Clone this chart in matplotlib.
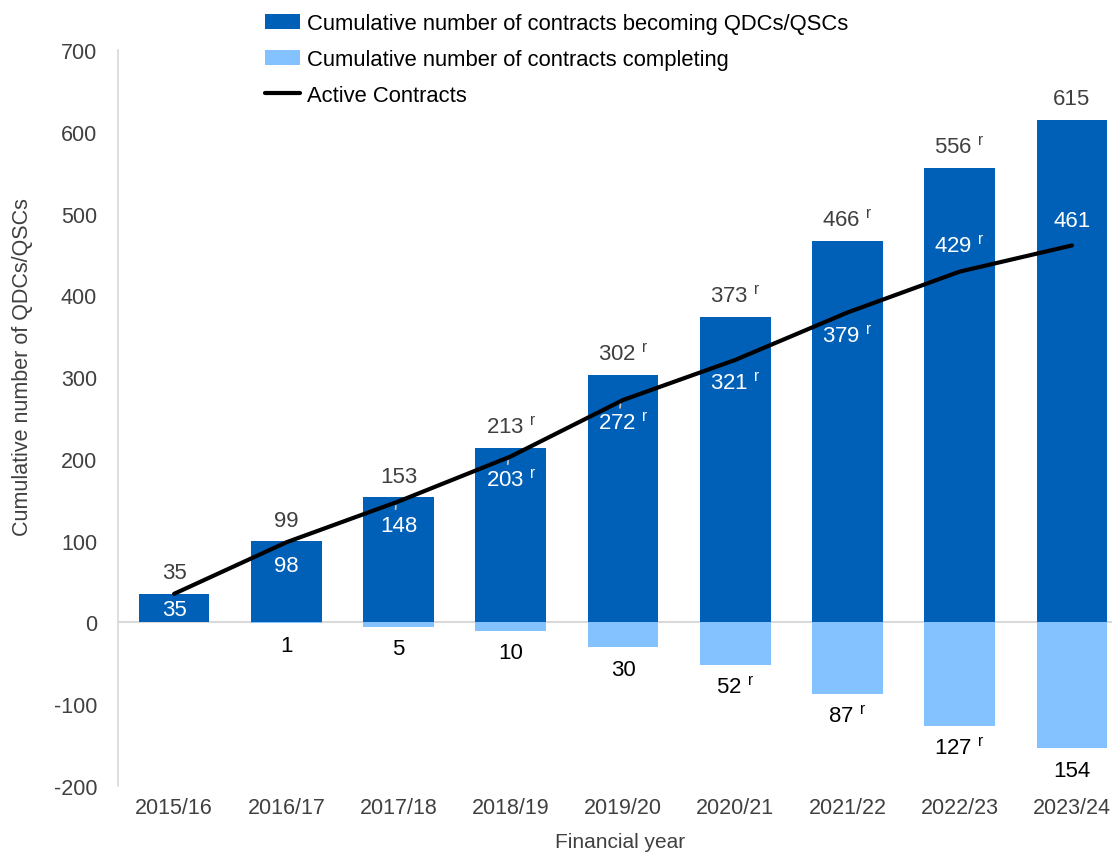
import matplotlib
matplotlib.use("Agg")
import matplotlib.pyplot as plt
import numpy as np

years = ["2015/16", "2016/17", "2017/18", "2018/19", "2019/20",
         "2020/21", "2021/22", "2022/23", "2023/24"]
becoming = [35, 99, 153, 213, 302, 373, 466, 556, 615]
becoming_rev = [False, False, False, True, True, True, True, True, False]
completing = [0, 1, 5, 10, 30, 52, 87, 127, 154]
completing_rev = [False, False, False, False, False, True, True, True, False]
active = [35, 98, 148, 203, 272, 321, 379, 429, 461]
active_rev = [False, False, False, True, True, True, True, True, False]
active_above = [False, False, False, False, False, False, False, True, True]
active_leader = [False, False, True, True, True, False, False, False, False]

DARK = "#0060B8"
LIGHT = "#84C2FF"
GREY_TXT = "#404040"

plt.rcParams['font.family'] = ['Liberation Sans', 'DejaVu Sans']
plt.rcParams['axes.unicode_minus'] = False

fig = plt.figure(figsize=(11.12, 8.54), dpi=100)
ax = fig.add_axes([118/1112, 67/854, 1010/1112, 736/854])

x = np.arange(len(years))
w = 0.63
b1 = ax.bar(x, becoming, width=w, color=DARK, zorder=2,
            label="Cumulative number of contracts becoming QDCs/QSCs")
b2 = ax.bar(x, [-c for c in completing], width=w, color=LIGHT, zorder=2,
            label="Cumulative number of contracts completing")
ln, = ax.plot(x, active, color="black", lw=3, zorder=4, label="Active Contracts",
              solid_capstyle="round")

def lab(v, rev):
    return f"{v} $^{{\\mathregular{{r}}}}$" if rev else f"{v}"

FS = 16
for i in range(len(years)):
    ax.annotate(lab(becoming[i], becoming_rev[i]), (x[i], becoming[i]),
                xytext=(0, 15), textcoords="offset points", ha="center",
                va="center", fontsize=FS, color=GREY_TXT, zorder=5)
    if completing[i] > 0:
        ax.annotate(lab(completing[i], completing_rev[i]), (x[i], -completing[i]),
                    xytext=(0, -16), textcoords="offset points", ha="center",
                    va="center", fontsize=FS, color="black", zorder=5)
    off = 18 if active_above[i] else -(11 if i == 0 else 17)
    ax.annotate(lab(active[i], active_rev[i]), (x[i], active[i]),
                xytext=(0, off), textcoords="offset points", ha="center",
                va="center", fontsize=FS, color="white", zorder=5)
    if active_leader[i]:
        ax.annotate("", (x[i] - 0.02, active[i] - 2), xytext=(x[i] - 0.03, active[i] - 13),
                    arrowprops=dict(arrowstyle="-", color="#BFBFBF", lw=1.3), zorder=5)

ax.axhline(0, color="#D9D9D9", lw=1.5, zorder=1)
ax.set_xlim(-0.5, 8.5)
ax.set_ylim(-200, 700)
ax.set_yticks(np.arange(-200, 701, 100))
ax.set_xticks(x)
ax.set_xticklabels(years)
ax.tick_params(axis="both", length=0, labelsize=15.5, colors=GREY_TXT)
ax.tick_params(axis="y", pad=15)
ax.tick_params(axis="x", pad=8)
for s in ["top", "right", "bottom"]:
    ax.spines[s].set_visible(False)
ax.spines["left"].set_color("#D9D9D9")
ax.spines["left"].set_linewidth(1.2)

ax.set_xlabel("Financial year", fontsize=15, color=GREY_TXT)
ax.xaxis.set_label_coords(0.497, -0.063)
ax.set_ylabel("Cumulative number of QDCs/QSCs", color=GREY_TXT, fontsize=15.5)
ax.yaxis.set_label_coords(-0.084, 0.571)

leg = fig.legend(handles=[b1, b2, ln], loc="upper left",
                 bbox_to_anchor=(265/1112, 1 - 14/854), frameon=False,
                 fontsize=15.8, handlelength=1.6, handletextpad=0.3,
                 labelspacing=0.68, borderaxespad=0, borderpad=0)

fig.savefig("out.png", dpi=100)
